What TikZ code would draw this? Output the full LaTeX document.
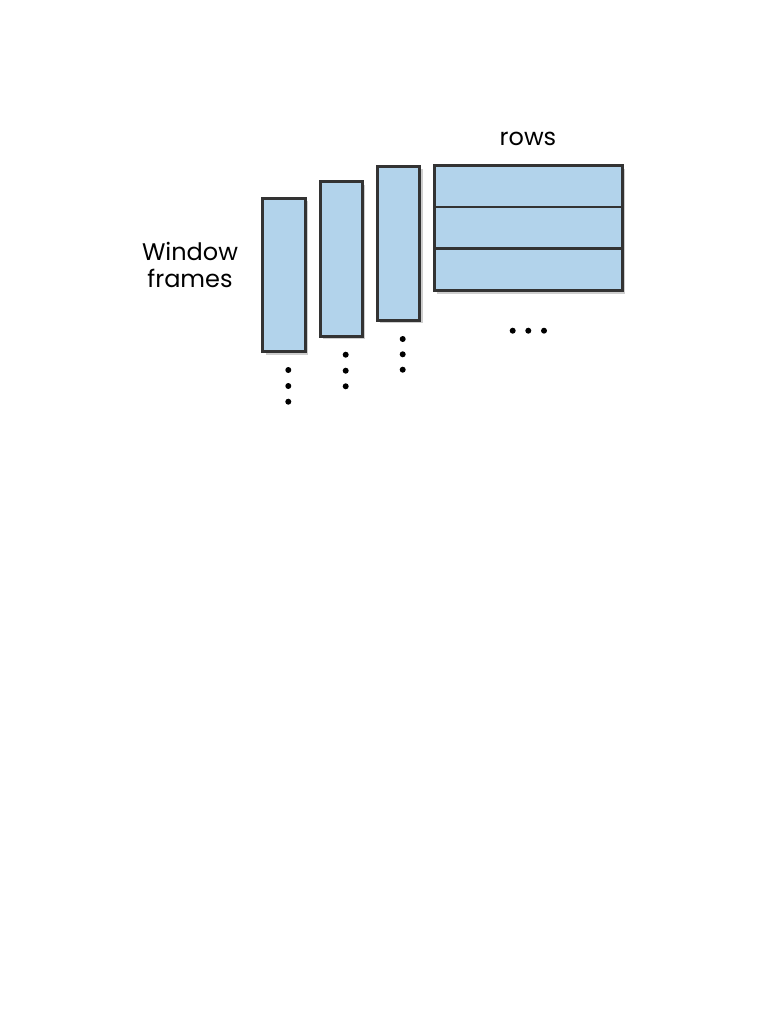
\documentclass[tikz,border=0pt]{standalone}
\usepackage{fontspec}
\setmainfont{Poppins}
\usetikzlibrary{shadows}
\definecolor{barfill}{HTML}{B2D3EB}
\definecolor{barline}{HTML}{333333}
\tikzset{
  bar/.style={draw=barline, line width=3pt, fill=barfill,
    drop shadow={shadow xshift=3pt, shadow yshift=-3pt, fill=black!35, opacity=0.55}},
  rowline/.style={draw=barline, line width=2.6pt},
  dotmark/.style={circle, fill=black, inner sep=0pt, minimum size=6pt},
  lbl/.style={font=\fontsize{24}{27}\selectfont, inner sep=0pt}
}
\begin{document}
\begin{tikzpicture}[x=1pt,y=-1pt]
\useasboundingbox (0,0) rectangle (781,1011);
% bars
\path[bar] (262.7,198.3) rectangle (305.3,351.7);
\path[bar] (320.3,182) rectangle (362.3,336.3);
\path[bar] (377.3,166.3) rectangle (419.7,320);
% rows box
\path[bar] (434.3,165.7) rectangle (622.3,290.7);
\coordinate (r1l) at (434.3,207);
\coordinate (r1r) at (622.3,207);
\coordinate (r2l) at (434.3,248.3);
\coordinate (r2r) at (622.3,248.3);
\draw[rowline] (r1l) -- (r1r);
\draw[rowline] (r2l) -- (r2r);
% dots
\foreach \y [count=\i] in {370,386,401.7} \node[dotmark] (da\i) at (288.3,\y) {};
\foreach \y [count=\i] in {354.7,370.7,386.3} \node[dotmark] (db\i) at (345.7,\y) {};
\foreach \y [count=\i] in {339,354.3,369.7} \node[dotmark] (dc\i) at (402.7,\y) {};
\foreach \x [count=\i] in {512.7,528.3,544} \node[dotmark] (dr\i) at (\x,330.7) {};
% labels
\node[lbl] (rows) at (528,139) {rows};
\node[lbl, align=center] (wf) at (190,265) {Window\\frames};
\end{tikzpicture}
\end{document}
